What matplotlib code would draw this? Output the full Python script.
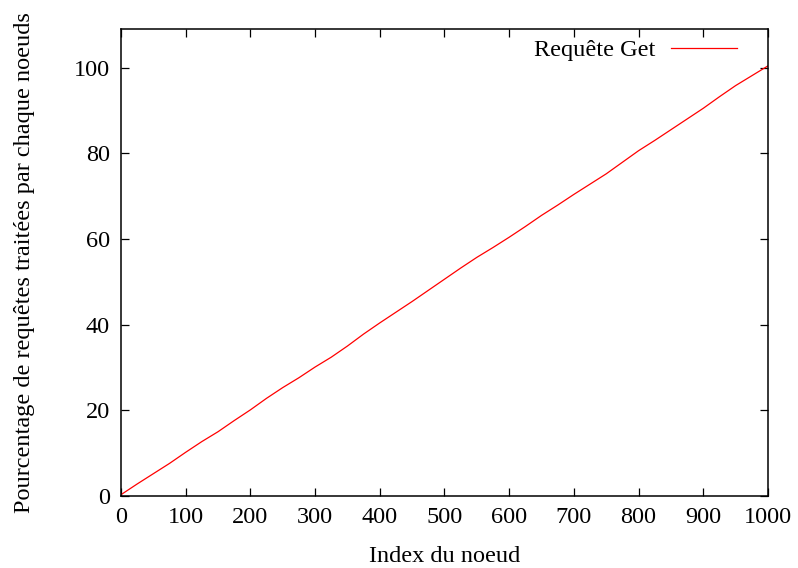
import numpy as np
import matplotlib
matplotlib.use('Agg')
import matplotlib.pyplot as plt

# cumulative percentage of handled requests, every 25 nodes
node_index = list(range(0, 1001, 25))
pourcentage = [0.3, 2.8, 5.2, 7.6, 10.2, 12.7, 15.0, 17.6, 20.1, 22.8,
               25.3, 27.6, 30.1, 32.4, 35.0, 37.8, 40.4, 42.9, 45.4, 48.0,
               50.6, 53.2, 55.7, 58.0, 60.4, 62.9, 65.5, 67.9, 70.4, 72.8,
               75.2, 77.9, 80.6, 83.0, 85.5, 88.0, 90.5, 93.2, 95.8, 98.1,
               100.4]
x_ticks = list(range(0, 1001, 100))
y_ticks = [0, 20, 40, 60, 80, 100]

plt.rcParams['font.family'] = ['Liberation Serif', 'DejaVu Serif']
plt.rcParams['font.size'] = 17.5

fig = plt.figure(figsize=(7.98, 5.68), dpi=100)
ax = fig.add_axes([0.1516, 0.1268, 0.9624 - 0.1516, 0.9489 - 0.1268])

ax.plot(node_index, pourcentage, color='red', linewidth=0.9, label='Requête Get')

ax.set_xlim(0, 1000)
ax.set_ylim(0, 109)
ax.set_xticks(x_ticks)
ax.set_yticks(y_ticks)
ax.tick_params(direction='in', length=6, width=0.9, top=True, right=True, pad=8)
for sp in ax.spines.values():
    sp.set_linewidth(1.1)

ax.set_xlabel('Index du noeud', labelpad=13)
ax.set_ylabel('Pourcentage de requêtes traitées par chaque noeuds', labelpad=28)

ax.legend(loc='center right', bbox_to_anchor=(737 / 798, 1 - 50 / 568),
          bbox_transform=fig.transFigure, frameon=False, markerfirst=False,
          borderpad=0, borderaxespad=0, handlelength=2.7, handletextpad=0.66)

fig.savefig('out.png', dpi=100)
